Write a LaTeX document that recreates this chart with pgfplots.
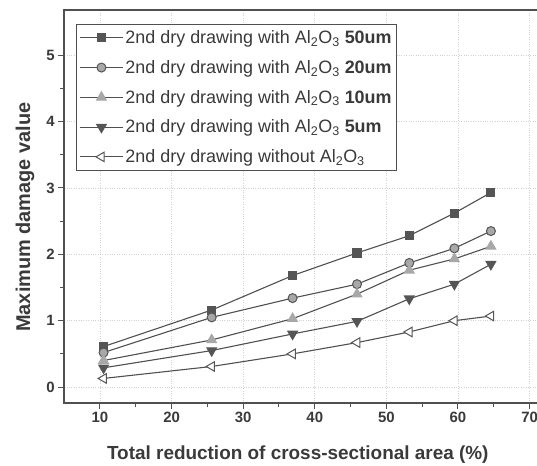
\documentclass[border=0pt]{standalone}
\usepackage{pgfplots}
\pgfplotsset{compat=1.18}
\usepackage{fontspec}
\setmainfont{Liberation Sans}
\definecolor{ln}{HTML}{505050}
\definecolor{txt}{HTML}{3A3A3A}
\definecolor{mk}{HTML}{555555}
\definecolor{lg}{HTML}{A8A8A8}
\begin{document}
\begin{tikzpicture}
\useasboundingbox (-64.2bp,-63bp) rectangle (472.8bp,403bp);
\begin{axis}[
  at={(0,0)}, anchor=south west,
  scale only axis=true,
  width=479.7bp, height=393bp,
  xmin=5, xmax=72, ymin=-0.24, ymax=5.68,
  xtick={10,20,30,40,50,60,70},
  ytick={0,1,2,3,4,5},
  minor x tick num=1, minor y tick num=1,
  tick align=outside,
  xtick pos=bottom, ytick pos=left,
  major tick length=6bp, minor tick length=4bp,
  every tick/.style={color=ln, line width=1bp},
  axis line style={color=ln, line width=1.5bp},
  grid=major,
  major grid style={dotted, gray!35, line width=0.6bp},
  tick label style={font=\fontsize{15}{18}\selectfont\bfseries, color=txt},
  /pgf/number format/assume math mode=true,
  xlabel={Total reduction of cross-sectional area (\%)},
  ylabel={Maximum damage value},
  xlabel style={font=\fontsize{19}{22}\selectfont\bfseries, color=txt,
    at={(axis description cs:0.487,-0.1425)}, anchor=base},
  ylabel style={font=\fontsize{20}{23}\selectfont\bfseries, color=txt,
    at={(axis description cs:-0.0817,0.473)}, anchor=center},
  legend style={at={(0.0246,0.964)}, anchor=north west, draw=ln, line width=0.8bp,
    font=\fontsize{18}{22}\selectfont, text=txt, row sep=11.3bp, inner xsep=3bp, inner ysep=4bp},
  legend cell align=left,
  legend image code/.code={
    \draw[mark repeat=2,mark phase=2] plot coordinates {(0bp,0bp) (21.5bp,0bp) (43bp,0bp)};
  },
  every axis plot/.append style={color=ln, line width=1.1bp},
]
\addplot[mark=square*, mark size=4bp, mark options={fill=mk, draw=mk}] coordinates {
(10.5,0.61) (25.6,1.16) (36.9,1.68) (45.9,2.02) (53.2,2.28) (59.5,2.62) (64.6,2.93)};
\addlegendentry{2nd dry drawing with Al\textsubscript{2}O\textsubscript{3} \textbf{50um}}
\addplot[mark=*, mark size=4.5bp, mark options={fill=lg, draw=mk, line width=1bp}] coordinates {
(10.5,0.52) (25.6,1.05) (36.9,1.34) (45.9,1.55) (53.2,1.87) (59.5,2.09) (64.6,2.35)};
\addlegendentry{2nd dry drawing with Al\textsubscript{2}O\textsubscript{3} \textbf{20um}}
\addplot[mark=triangle*, mark size=5.5bp, mark options={fill=lg, draw=lg}] coordinates {
(10.5,0.40) (25.6,0.71) (36.9,1.03) (45.9,1.40) (53.2,1.76) (59.5,1.93) (64.6,2.12)};
\addlegendentry{2nd dry drawing with Al\textsubscript{2}O\textsubscript{3} \textbf{10um}}
\addplot[mark=triangle*, mark size=5.5bp, mark options={rotate=180, fill=mk, draw=mk}] coordinates {
(10.5,0.29) (25.6,0.55) (36.9,0.80) (45.9,0.99) (53.2,1.33) (59.5,1.55) (64.6,1.85)};
\addlegendentry{2nd dry drawing with Al\textsubscript{2}O\textsubscript{3} \textbf{5um}}
\addplot[mark=triangle*, mark size=5.5bp, mark options={rotate=90, fill=white, draw=mk, line width=1bp}] coordinates {
(10.5,0.13) (25.6,0.31) (36.9,0.50) (45.9,0.67) (53.2,0.83) (59.5,1.00) (64.6,1.07)};
\addlegendentry{2nd dry drawing without Al\textsubscript{2}O\textsubscript{3}}
\end{axis}
\end{tikzpicture}
\end{document}
